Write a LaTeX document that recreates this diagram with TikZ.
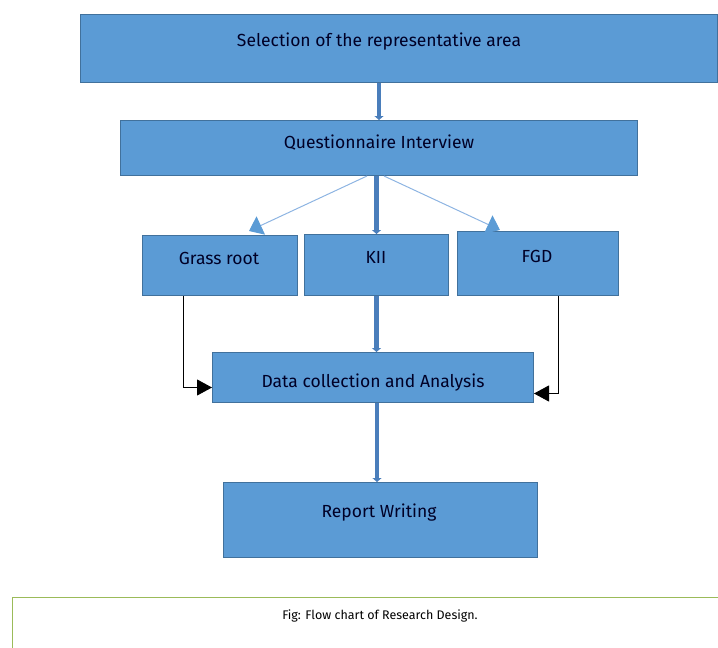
\documentclass[tikz,border=0pt]{standalone}
\usepackage{fontspec}
\setmainfont{Fira Sans}
\usetikzlibrary{arrows.meta,calc}
\definecolor{boxfill}{HTML}{5B9BD5}
\definecolor{boxline}{HTML}{41719C}
\definecolor{arrowblue}{HTML}{4A7EBB}
\definecolor{thinblue}{HTML}{8DB4E2}
\definecolor{capgreen}{HTML}{9BBB59}
\tikzset{
  box/.style={draw=boxline, fill=boxfill, line width=1pt, inner sep=0pt, anchor=north west},
  lbl/.style={font=\fontsize{17.5}{20}\selectfont, text=black!85!blue},
  caplbl/.style={font=\fontsize{12.5}{15}\selectfont, text=black},
  thickarrow/.style={draw=arrowblue, line width=4.5pt, -{Triangle[length=4pt,width=9pt]}},
  thinarrow/.style={draw=thinblue, line width=1pt, -{Triangle[length=13pt,width=20pt,fill=boxfill,color=boxfill]}},
  blackarrow/.style={draw=black, line width=0.9pt, -{Triangle[length=15pt,width=16pt]}},
}
\begin{document}
\begin{tikzpicture}[x=1pt,y=-1pt]
\useasboundingbox (0,0) rectangle (718,648);
% boxes
\node[box, minimum width=637pt, minimum height=68pt] (top) at (80,14) {};
\node[box, minimum width=517pt, minimum height=55pt] (quest) at (120,120) {};
\node[box, minimum width=155pt, minimum height=60pt] (grass) at (142,235) {};
\node[box, minimum width=144pt, minimum height=61pt] (kii) at (304,234) {};
\node[box, minimum width=161pt, minimum height=64pt] (fgd) at (457,231) {};
\node[box, minimum width=321pt, minimum height=50pt] (data) at (212,352) {};
\node[box, minimum width=314pt, minimum height=75pt] (report) at (223,482) {};
\node[draw=capgreen, line width=1.2pt, fill=white, minimum width=720pt, minimum height=70pt, inner sep=0pt, anchor=north west] (cap) at (12,597) {};
% labels
\node[lbl] (ttop) at (379,42) {Selection of the representative area};
\node[lbl] (tquest) at (379,143) {Questionnaire Interview};
\node[lbl] (tgrass) at (219,258) {Grass root};
\node[lbl] (tkii) at (376,257) {KII};
\node[lbl] (tfgd) at (537,256) {FGD};
\node[lbl] (tdata) at (373,383) {Data collection and Analysis};
\node[lbl] (treport) at (379,513) {Report Writing};
\node[caplbl] (tcap) at (380,616) {Fig: Flow chart of Research Design.};
% connectors
\draw[thickarrow] (quest.north |- top.south) -- (quest.north);
\draw[thickarrow] ([xshift=-2.5pt]quest.south) -- ([xshift=-2.5pt]quest.south |- kii.north);
\draw[thinarrow] ([xshift=-12pt]quest.south) -- ([xshift=29pt,yshift=4pt]grass.north);
\draw[thinarrow] ([xshift=5pt]quest.south) -- ([xshift=-38pt,yshift=1pt]fgd.north);
\draw[thickarrow] (kii.south) -- (kii.south |- data.north);
\draw[blackarrow] ([xshift=-36.5pt]grass.south) |- ([yshift=-10pt]data.west);
\draw[blackarrow] ([xshift=20.5pt]fgd.south) |- ([yshift=-16pt]data.east);
\draw[thickarrow] ([xshift=4pt]data.south) -- ([xshift=4pt]data.south |- report.north);
\end{tikzpicture}
\end{document}
